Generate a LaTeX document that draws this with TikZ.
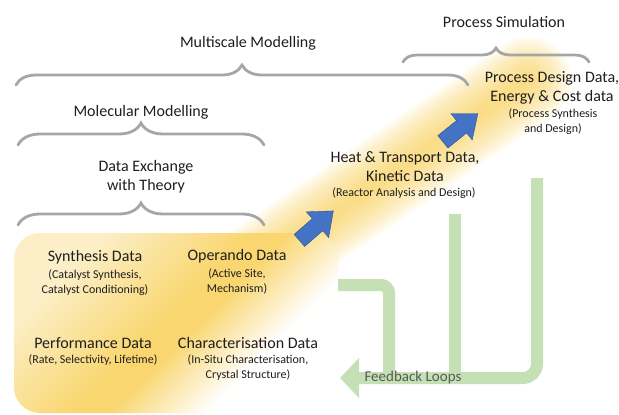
\documentclass[tikz,border=0pt]{standalone}
\usepackage{fontspec}
\setmainfont{Carlito}
\usetikzlibrary{decorations.pathreplacing,arrows.meta}
\definecolor{txt}{HTML}{1E1E1E}
\definecolor{fbtxt}{HTML}{595959}
\definecolor{bracegray}{HTML}{A6A6A6}
\definecolor{loopgreen}{HTML}{C5E0B4}
\definecolor{arrowblue}{HTML}{4472C4}
\definecolor{arrowedge}{HTML}{2F528F}
\definecolor{glow}{HTML}{F8CD50}
\definecolor{boxglow}{HTML}{F9D66F}
\definecolor{paleglow}{HTML}{FCEFC8}
\pgfdeclareverticalshading{boxshade}{100bp}{color(0bp)=(white); color(33bp)=(white); color(47bp)=(boxglow); color(52bp)=(boxglow); color(73bp)=(paleglow); color(100bp)=(paleglow)}

\begin{document}
\begin{tikzpicture}[x=1pt,y=-1pt,
  head/.style={text=txt, align=center, font=\fontsize{16}{19}\selectfont, inner sep=0pt},
  sub/.style={text=txt, align=center, font=\fontsize{12}{15}\selectfont, inner sep=0pt},
  bracket/.style={bracegray, line width=2.8pt, line cap=round, decorate, decoration={brace, amplitude=#1}},
  bigarrow/.style={fill=arrowblue, draw=arrowedge, thin},
  loop/.style={loopgreen, line width=12pt}]
\useasboundingbox (0,0) rectangle (619,415);

% yellow glow
\coordinate (bandA) at (150,340);
\coordinate (bandB) at (528,80);
\foreach \w in {86,80,...,4}
  \draw[glow, opacity=0.08, line width=\w pt, line cap=round] (bandA) -- (bandB);
\shade[rounded corners=26pt, shading=boxshade, shading angle=45] (14,233) rectangle (338,413);

% feedback loops
\coordinate (fbA) at (537,178);
\coordinate (fbB) at (455,214);
\coordinate (fbC) at (338,285);
\coordinate (fbtip) at (340,378);
\draw[loop, rounded corners=14pt, -{Triangle[length=19pt,width=39pt]}] (fbA) |- (fbtip);
\draw[loop] (fbB) -- (455,378);
\draw[loop, rounded corners=8pt] (fbC) -| (389,378);
\node[text=fbtxt, font=\fontsize{15}{18}\selectfont, inner sep=0pt] (fb) at (413,377) {Feedback Loops};

% braces
\draw[bracket=14pt] (403,62) -- (589,62);
\draw[bracket=20pt] (16,85) -- (468,85);
\draw[bracket=22pt] (18,145) -- (264,145);
\draw[bracket=22pt] (18,225) -- (264,225);

\node[head] (psim) at (504,22) {Process Simulation};
\node[head] (multi) at (248,43) {Multiscale Modelling};
\node[head] (mol) at (141,112) {Molecular Modelling};
\node[head] (dex) at (146,177) {Data Exchange\\with Theory};

\node[head] (pdd) at (552,87.5) {Process Design Data,\\Energy \& Cost data};
\node[sub] (pddsub) at (553,121.5) {(Process Synthesis\\and Design)};
\node[head] (heat) at (405,166.5) {Heat \& Transport Data,\\Kinetic Data};
\node[sub] (heatsub) at (404,193) {(Reactor Analysis and Design)};

\node[head] (syn) at (95,257) {Synthesis Data};
\node[sub] (synsub) at (95,282.5) {(Catalyst Synthesis,\\Catalyst Conditioning)};
\node[head] (oper) at (237,256) {Operando Data};
\node[sub] (opersub) at (237,281) {(Active Site,\\Mechanism)};
\node[head] (perf) at (93,343) {Performance Data};
\node[sub] (perfsub) at (93,360) {(Rate, Selectivity, Lifetime)};
\node[head] (char) at (248,343) {Characterisation Data};
\node[sub] (charsub) at (248,367.5) {(In-Situ Characterisation,\\Crystal Structure)};

% block arrows
\foreach \cx/\cy/\ang in {316/226/41, 460/128/39}
  \draw[bigarrow, shift={(\cx,\cy)}, rotate=\ang]
    (-22,-8) -- (2,-8) -- (2,-17) -- (23,0) -- (2,17) -- (2,8) -- (-22,8) -- cycle;
\end{tikzpicture}
\end{document}
